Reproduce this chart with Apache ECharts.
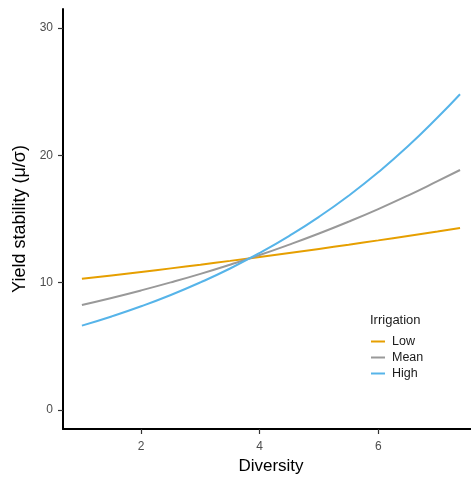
<!DOCTYPE html>
<html>
<head>
<meta charset="utf-8">
<script src="https://cdn.jsdelivr.net/npm/echarts@6/dist/echarts.min.js"></script>
<style>
  html, body { margin: 0; padding: 0; background: #fff; overflow: hidden; }
  #chart { width: 471px; height: 479px; }
</style>
</head>
<body>
<div id="chart"></div>
<script>
// Predicted yield stability along the diversity gradient, per irrigation level
const diversity = [1, 1.5, 2, 2.5, 3, 3.5, 4, 4.5, 5, 5.5, 6, 6.5, 7, 7.38];
const lowIrr  = [10.30, 10.57, 10.84, 11.12, 11.41, 11.71, 12.02, 12.33, 12.65, 12.98, 13.32, 13.67, 14.02, 14.30];
const meanIrr = [8.25, 8.80, 9.39, 10.02, 10.69, 11.41, 12.17, 12.99, 13.86, 14.79, 15.78, 16.84, 17.97, 18.85];
const highIrr = [6.62, 7.34, 8.14, 9.03, 10.02, 11.11, 12.33, 13.68, 15.17, 16.83, 18.67, 20.71, 22.97, 24.80];
const seriesNames = ['Low', 'Mean', 'High'];
const xTicks = [2, 4, 6];
const yTicks = [0, 10, 20, 30];

const FONT = 'Liberation Sans, Arial, sans-serif';
const colors = ['#E69F00', '#999999', '#56B4E9'];
const pairs = ys => diversity.map((x, i) => [x, ys[i]]);

const chart = echarts.init(document.getElementById('chart'));
chart.setOption({
  animation: false,
  textStyle: { fontFamily: FONT },
  // the panel runs slightly past the right edge of the canvas
  grid: { left: 63, right: -8, top: 9, bottom: 50, containLabel: false, outerBoundsMode: 'none' },
  xAxis: {
    type: 'value',
    min: 0.681,
    max: 7.70,
    name: 'Diversity',
    nameLocation: 'middle',
    nameGap: 28,
    nameTextStyle: { fontSize: 17, color: '#000', fontFamily: FONT },
    splitLine: { show: false },
    axisLine: { show: true, onZero: false, lineStyle: { color: '#000', width: 2 } },
    axisTick: { show: true, customValues: xTicks, length: 5, lineStyle: { color: '#333', width: 1.2 } },
    axisLabel: { customValues: xTicks, color: '#4d4d4d', fontSize: 12, margin: 12, fontFamily: FONT }
  },
  yAxis: {
    type: 'value',
    min: -1.5,
    max: 31.5,
    name: 'Yield stability (\u03bc/\u03c3)',
    nameLocation: 'middle',
    nameGap: 29,
    nameRotate: 90,
    nameTextStyle: { fontSize: 18, color: '#000', fontFamily: FONT },
    splitLine: { show: false },
    axisLine: { show: true, onZero: false, lineStyle: { color: '#000', width: 2 } },
    axisTick: { show: true, customValues: yTicks, length: 5, lineStyle: { color: '#333', width: 1.2 } },
    axisLabel: { customValues: yTicks, color: '#4d4d4d', fontSize: 12, margin: 10, fontFamily: FONT }
  },
  legend: {
    orient: 'vertical',
    left: 366,
    top: 330,
    itemWidth: 14,
    itemHeight: 2,
    itemGap: 3,
    icon: 'rect',
    textStyle: { fontSize: 12.5, color: '#1a1a1a', fontFamily: FONT, padding: [0, 0, 0, 2] },
    data: seriesNames
  },
  graphic: [{
    type: 'text',
    left: 370,
    top: 314,
    style: { text: 'Irrigation', fontSize: 13, fill: '#1a1a1a', fontFamily: FONT }
  }],
  series: [lowIrr, meanIrr, highIrr].map((ys, i) => ({
    name: seriesNames[i],
    type: 'line',
    data: pairs(ys),
    smooth: true,
    symbol: 'none',
    lineStyle: { color: colors[i], width: 2 },
    itemStyle: { color: colors[i] }
  }))
});
</script>
</body>
</html>
